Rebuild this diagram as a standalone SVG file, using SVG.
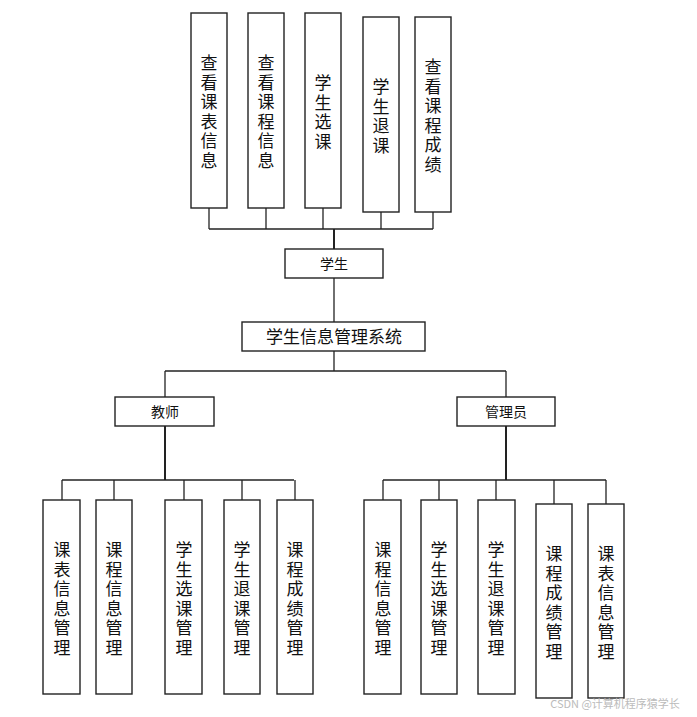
<svg xmlns="http://www.w3.org/2000/svg" width="697" height="717" viewBox="0 0 697 717">
<style>
rect{fill:#fff;stroke:#222;stroke-width:1.4}
text{font-family:"Noto Sans CJK SC","Liberation Sans",sans-serif;font-size:17px;fill:#111;text-anchor:middle}
.h{font-size:14px}
.c line{stroke:#222;stroke-width:1.3}
.c .t{stroke-width:2}
</style>
<rect x="0" y="0" width="697" height="717" style="fill:#fff;stroke:none"/>
<g class="c" id="connectors">
<line x1="209" y1="229" x2="433" y2="229"/>
<line x1="209" y1="208" x2="209" y2="229"/><line x1="266" y1="208" x2="266" y2="229"/><line x1="323" y1="208" x2="323" y2="229"/><line x1="381" y1="212" x2="381" y2="229"/><line x1="433" y1="212" x2="433" y2="229"/>
<line class="t" x1="334" y1="229" x2="334" y2="249"/>
<line x1="334" y1="278" x2="334" y2="322"/>
<line x1="334" y1="351" x2="334" y2="371"/>
<line x1="165" y1="371" x2="506" y2="371"/>
<line x1="165" y1="371" x2="165" y2="397"/><line x1="506" y1="371" x2="506" y2="397"/>
<line class="t" x1="165" y1="426" x2="165" y2="480"/>
<line x1="62" y1="480" x2="294" y2="480"/>
<line x1="62" y1="480" x2="62" y2="500"/><line x1="114" y1="480" x2="114" y2="500"/><line x1="184" y1="480" x2="184" y2="500"/><line x1="242" y1="480" x2="242" y2="500"/><line x1="295" y1="480" x2="295" y2="500"/>
<line class="t" x1="506" y1="426" x2="506" y2="480"/>
<line x1="383" y1="480" x2="606" y2="480"/>
<line x1="383" y1="480" x2="383" y2="500"/><line x1="439" y1="480" x2="439" y2="500"/><line x1="496" y1="480" x2="496" y2="500"/><line x1="554" y1="480" x2="554" y2="504"/><line x1="606" y1="480" x2="606" y2="504"/>
</g>
<g id="s1"><rect x="191" y="13" width="36" height="195"/><text x="209"><tspan x="209" y="69">查</tspan><tspan x="209" dy="19.5">看</tspan><tspan x="209" dy="19.5">课</tspan><tspan x="209" dy="19.5">表</tspan><tspan x="209" dy="19.5">信</tspan><tspan x="209" dy="19.5">息</tspan></text></g>
<g id="s2"><rect x="248" y="13" width="36" height="195"/><text><tspan x="266" y="69">查</tspan><tspan x="266" dy="19.5">看</tspan><tspan x="266" dy="19.5">课</tspan><tspan x="266" dy="19.5">程</tspan><tspan x="266" dy="19.5">信</tspan><tspan x="266" dy="19.5">息</tspan></text></g>
<g id="s3"><rect x="305" y="13" width="36" height="195"/><text><tspan x="323" y="89">学</tspan><tspan x="323" dy="19.5">生</tspan><tspan x="323" dy="19.5">选</tspan><tspan x="323" dy="19.5">课</tspan></text></g>
<g id="s4"><rect x="363" y="17" width="36" height="195"/><text><tspan x="381" y="93">学</tspan><tspan x="381" dy="19.5">生</tspan><tspan x="381" dy="19.5">退</tspan><tspan x="381" dy="19.5">课</tspan></text></g>
<g id="s5"><rect x="415" y="17" width="36" height="195"/><text><tspan x="433" y="73">查</tspan><tspan x="433" dy="19.5">看</tspan><tspan x="433" dy="19.5">课</tspan><tspan x="433" dy="19.5">程</tspan><tspan x="433" dy="19.5">成</tspan><tspan x="433" dy="19.5">绩</tspan></text></g>
<g id="student"><rect x="285" y="249" width="98" height="29"/><text class="h" x="334" y="269">学生</text></g>
<g id="root"><rect x="242" y="322" width="183" height="29"/><text x="334" y="343">学生信息管理系统</text></g>
<g id="teacher"><rect x="115" y="397" width="99" height="29"/><text class="h" x="165" y="417">教师</text></g>
<g id="admin"><rect x="457" y="397" width="98" height="29"/><text class="h" x="506" y="417">管理员</text></g>
<g id="t1"><rect x="43" y="500" width="37" height="194"/><text><tspan x="62" y="556">课</tspan><tspan x="62" dy="19.5">表</tspan><tspan x="62" dy="19.5">信</tspan><tspan x="62" dy="19.5">息</tspan><tspan x="62" dy="19.5">管</tspan><tspan x="62" dy="19.5">理</tspan></text></g>
<g id="t2"><rect x="96" y="500" width="36" height="194"/><text><tspan x="114" y="556">课</tspan><tspan x="114" dy="19.5">程</tspan><tspan x="114" dy="19.5">信</tspan><tspan x="114" dy="19.5">息</tspan><tspan x="114" dy="19.5">管</tspan><tspan x="114" dy="19.5">理</tspan></text></g>
<g id="t3"><rect x="165" y="500" width="37" height="194"/><text><tspan x="184" y="556">学</tspan><tspan x="184" dy="19.5">生</tspan><tspan x="184" dy="19.5">选</tspan><tspan x="184" dy="19.5">课</tspan><tspan x="184" dy="19.5">管</tspan><tspan x="184" dy="19.5">理</tspan></text></g>
<g id="t4"><rect x="224" y="500" width="36" height="194"/><text><tspan x="242" y="556">学</tspan><tspan x="242" dy="19.5">生</tspan><tspan x="242" dy="19.5">退</tspan><tspan x="242" dy="19.5">课</tspan><tspan x="242" dy="19.5">管</tspan><tspan x="242" dy="19.5">理</tspan></text></g>
<g id="t5"><rect x="277" y="500" width="36" height="194"/><text><tspan x="295" y="556">课</tspan><tspan x="295" dy="19.5">程</tspan><tspan x="295" dy="19.5">成</tspan><tspan x="295" dy="19.5">绩</tspan><tspan x="295" dy="19.5">管</tspan><tspan x="295" dy="19.5">理</tspan></text></g>
<g id="a1"><rect x="364" y="500" width="37" height="194"/><text><tspan x="383" y="556">课</tspan><tspan x="383" dy="19.5">程</tspan><tspan x="383" dy="19.5">信</tspan><tspan x="383" dy="19.5">息</tspan><tspan x="383" dy="19.5">管</tspan><tspan x="383" dy="19.5">理</tspan></text></g>
<g id="a2"><rect x="421" y="500" width="36" height="194"/><text><tspan x="439" y="556">学</tspan><tspan x="439" dy="19.5">生</tspan><tspan x="439" dy="19.5">选</tspan><tspan x="439" dy="19.5">课</tspan><tspan x="439" dy="19.5">管</tspan><tspan x="439" dy="19.5">理</tspan></text></g>
<g id="a3"><rect x="478" y="500" width="37" height="194"/><text><tspan x="496" y="556">学</tspan><tspan x="496" dy="19.5">生</tspan><tspan x="496" dy="19.5">退</tspan><tspan x="496" dy="19.5">课</tspan><tspan x="496" dy="19.5">管</tspan><tspan x="496" dy="19.5">理</tspan></text></g>
<g id="a4"><rect x="536" y="504" width="36" height="194"/><text><tspan x="554" y="560">课</tspan><tspan x="554" dy="19.5">程</tspan><tspan x="554" dy="19.5">成</tspan><tspan x="554" dy="19.5">绩</tspan><tspan x="554" dy="19.5">管</tspan><tspan x="554" dy="19.5">理</tspan></text></g>
<g id="a5"><rect x="588" y="504" width="36" height="194"/><text><tspan x="606" y="560">课</tspan><tspan x="606" dy="19.5">表</tspan><tspan x="606" dy="19.5">信</tspan><tspan x="606" dy="19.5">息</tspan><tspan x="606" dy="19.5">管</tspan><tspan x="606" dy="19.5">理</tspan></text></g>
<text x="615" y="708" style="font-size:11px;fill:#bbb">CSDN @计算机程序猿学长</text>
</svg>
